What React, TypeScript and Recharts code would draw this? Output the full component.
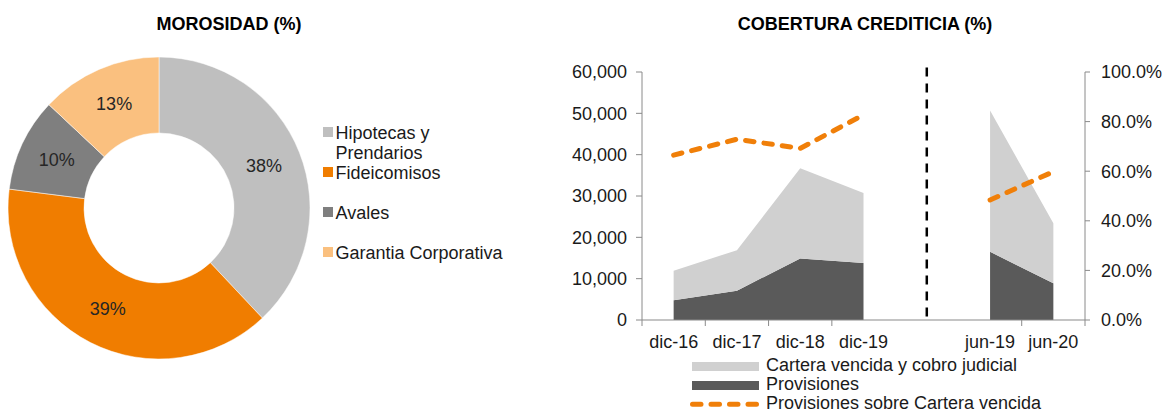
import React from "react";
import {
  PieChart,
  Pie,
  Cell,
  Legend,
  ComposedChart,
  Area,
  Line,
  XAxis,
  YAxis,
  ReferenceLine,
  ReferenceArea,
} from "recharts";

const FONT = "Arial, 'Liberation Sans', Helvetica, sans-serif";
const TEXT = "#1a1a1a";
const AXIS = "#8a8a8a";
const LIGHT = "#d0d0d0";
const DARK = "#5a5a5a";
const ORANGE = "#f07f09";

// Morosidad por tipo de garantia
const mixNames = ["Hipotecas y Prendarios", "Fideicomisos", "Avales", "Garantia Corporativa"];
const mixValues = [38, 39, 10, 13];
const mixColors = ["#bfbfbf", "#f07d00", "#7f7f7f", "#fac07f"];

// Cobertura crediticia
const periods = ["dic-16", "dic-17", "dic-18", "dic-19", " ", "jun-19", "jun-20"];
const carteraVencida = [7100, 9800, 21800, 16900, null, 34200, 14500];
const provisiones = [4800, 7100, 14900, 13800, null, 16500, 8900];
const cobertura = [0.665, 0.729, 0.692, 0.827, null, 0.484, 0.598];

const leftTicks = [0, 10000, 20000, 30000, 40000, 50000, 60000];
const rightTicks = [0, 0.2, 0.4, 0.6, 0.8, 1];

const seriesNames = ["Cartera vencida y cobro judicial", "Provisiones", "Provisiones sobre Cartera vencida"];

const mixData = mixNames.map((name, i) => ({ name, value: mixValues[i] }));
const coverageData = periods.map((period, i) => ({
  period,
  cartera: carteraVencida[i],
  provisiones: provisiones[i],
  cobertura: cobertura[i],
}));

const RAD = Math.PI / 180;

const renderPieLabel = (props: any) => {
  const { cx, cy, midAngle, innerRadius, outerRadius, value } = props;
  const r = (innerRadius + outerRadius) / 2;
  const x = cx + r * Math.cos(-midAngle * RAD);
  const y = cy + r * Math.sin(-midAngle * RAD);
  return (
    <text x={x} y={y} textAnchor="middle" dominantBaseline="central" fill="#262626" fontSize={18}>
      {value}%
    </text>
  );
};

const PieLegend = () => (
  <div>
    {mixNames.map((name, i) => (
      <div key={name} style={{ display: "flex", alignItems: "flex-start", height: 40.1 }}>
        <div style={{ width: 10, height: 10, marginTop: 4.5, background: mixColors[i], flex: "none" }} />
        <div style={{ marginLeft: 2.5, width: 180, fontSize: 18, lineHeight: "20px", color: TEXT }}>{name}</div>
      </div>
    ))}
  </div>
);

const CoverageLegend = () => (
  <div>
    {seriesNames.map((name, i) => (
      <div key={name} style={{ display: "flex", alignItems: "flex-start", height: 19 }}>
        <svg width={72} height={19} style={{ flex: "none" }}>
          {i < 2 ? (
            <rect x={2} y={6} width={67} height={9} fill={i === 0 ? LIGHT : DARK} />
          ) : (
            <line x1={2.5} x2={69} y1={10.3} y2={10.3} stroke={ORANGE} strokeWidth={5} strokeDasharray="8.5 10" strokeLinecap="round" />
          )}
        </svg>
        <div style={{ marginLeft: 4, fontSize: 18, lineHeight: "19px", color: TEXT, whiteSpace: "nowrap" }}>{name}</div>
      </div>
    ))}
  </div>
);

const BAND_HALF = 443 / periods.length / 2;

const PeriodTick = (props: any) => {
  const { x, y, payload, index } = props;
  const half = payload.offset ? payload.offset : BAND_HALF;
  const last = index === periods.length - 1;
  // no boundary ticks around the blank separator category
  const hidden = periods[index] === " " || periods[index - 1] === " ";
  return (
    <g>
      {!hidden && <line x1={x - half} x2={x - half} y1={y} y2={y + 6} stroke={AXIS} />}
      {last && <line x1={x + half} x2={x + half} y1={y} y2={y + 6} stroke={AXIS} />}
      <text x={x} y={y + 15} dy="0.71em" textAnchor="middle" fill={TEXT} fontSize={18}>
        {payload.value}
      </text>
    </g>
  );
};

// white mask that breaks the category axis between the two periods
const AxisBreak = (props: any) => {
  const { x, y, width, height } = props;
  const pad = width * 0.38;
  return <rect x={x - pad} y={y} width={width + pad * 2} height={height} fill="#fff" />;
};

const titleStyle: React.CSSProperties = {
  position: "absolute",
  top: 14,
  fontSize: 18,
  lineHeight: "20px",
  fontWeight: "bold",
  color: "#000",
  textAlign: "center",
  width: 400,
};

export default function App() {
  return (
    <div style={{ position: "absolute", left: 0, top: 0, width: 1175, height: 418, background: "#fff", fontFamily: FONT }}>
      <div style={{ ...titleStyle, left: 29 }}>MOROSIDAD (%)</div>
      <div style={{ ...titleStyle, left: 665 }}>COBERTURA CREDITICIA (%)</div>

      <div style={{ position: "absolute", left: 0, top: 0 }}>
        <PieChart width={540} height={418} margin={{ top: 0, right: 0, bottom: 0, left: 0 }}>
          <Pie
            data={mixData}
            dataKey="value"
            nameKey="name"
            cx={159}
            cy={208}
            innerRadius={75}
            outerRadius={151}
            startAngle={90}
            endAngle={-270}
            stroke="#fff"
            strokeWidth={0.5}
            label={renderPieLabel}
            labelLine={false}
            isAnimationActive={false}
          >
            {mixData.map((d, i) => (
              <Cell key={d.name} fill={mixColors[i]} />
            ))}
          </Pie>
          <Legend
            layout="horizontal"
            align="center"
            verticalAlign="middle"
            wrapperStyle={{ left: 323, top: 122.5, width: 215, height: 165 }}
            content={() => <PieLegend />}
          />
        </PieChart>
      </div>

      <div style={{ position: "absolute", left: 540, top: 0 }}>
        <ComposedChart width={635} height={418} data={coverageData} margin={{ top: 72, right: 0, bottom: 68, left: 0 }}>
          <XAxis
            dataKey="period"
            scale="band"
            height={30}
            interval={0}
            axisLine={{ stroke: AXIS, strokeWidth: 1.2 }}
            tickLine={false}
            tickSize={0}
            tickMargin={0}
            tick={<PeriodTick />}
          />
          <YAxis
            yAxisId="left"
            orientation="left"
            width={102}
            domain={[0, 60000]}
            ticks={leftTicks}
            interval={0}
            tickFormatter={(v: number) => v.toLocaleString("en-US")}
            axisLine={{ stroke: AXIS }}
            tickLine={{ stroke: AXIS }}
            tickSize={6}
            tickMargin={9}
            tick={{ fill: TEXT, fontSize: 18 }}
          />
          <YAxis
            yAxisId="right"
            orientation="right"
            width={90}
            domain={[0, 1]}
            ticks={rightTicks}
            interval={0}
            tickFormatter={(v: number) => (v * 100).toFixed(1) + "%"}
            axisLine={{ stroke: AXIS }}
            tickLine={{ stroke: AXIS }}
            tickSize={5}
            tickMargin={11}
            tick={{ fill: TEXT, fontSize: 18 }}
          />
          <Area
            yAxisId="left"
            type="linear"
            dataKey="provisiones"
            name={seriesNames[1]}
            stackId="a"
            stroke="none"
            fill={DARK}
            fillOpacity={1}
            isAnimationActive={false}
          />
          <Area
            yAxisId="left"
            type="linear"
            dataKey="cartera"
            name={seriesNames[0]}
            stackId="a"
            stroke="none"
            fill={LIGHT}
            fillOpacity={1}
            isAnimationActive={false}
          />
          <Line
            yAxisId="right"
            type="linear"
            dataKey="cobertura"
            name={seriesNames[2]}
            stroke={ORANGE}
            strokeWidth={5}
            strokeDasharray="8.5 10"
            strokeLinecap="round"
            dot={false}
            activeDot={false}
            isAnimationActive={false}
          />
          <ReferenceArea
            yAxisId="left"
            x1=" "
            x2=" "
            y1={-1000}
            y2={1000}
            ifOverflow="visible"
            shape={<AxisBreak />}
          />
          <ReferenceLine
            yAxisId="left"
            segment={[
              { x: " ", y: 61100 },
              { x: " ", y: 480 },
            ]}
            stroke="#000"
            strokeWidth={2.5}
            strokeDasharray="9 7"
            ifOverflow="visible"
          />
          <Legend
            layout="horizontal"
            align="center"
            verticalAlign="middle"
            wrapperStyle={{ left: 150, top: 356, width: 420, height: 60 }}
            content={() => <CoverageLegend />}
          />
        </ComposedChart>
      </div>
    </div>
  );
}
